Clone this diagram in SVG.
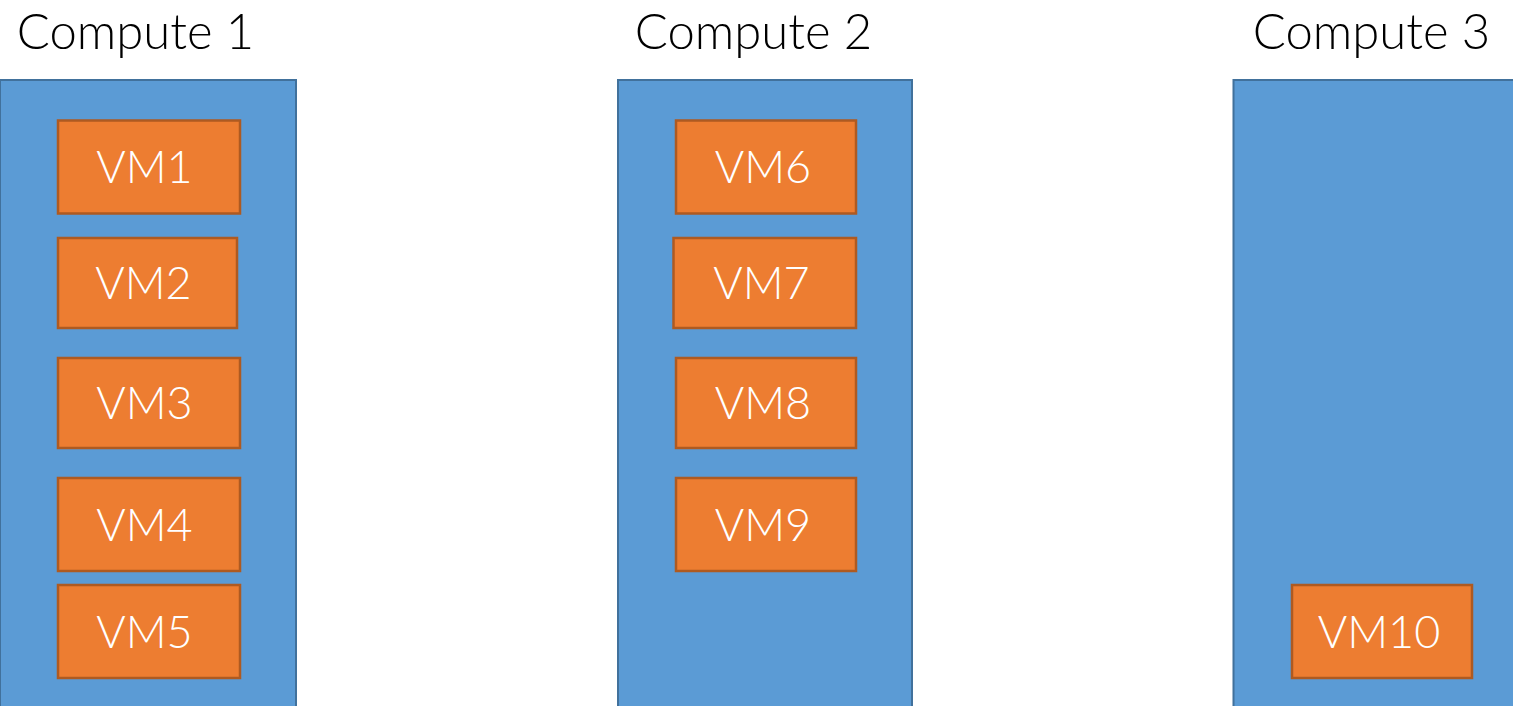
<svg xmlns="http://www.w3.org/2000/svg" width="1513" height="706" viewBox="0 0 1513 706">
  <style>
    .host { fill: #5B9BD5; stroke: #41719C; stroke-width: 2; }
    .vm { fill: #ED7D31; stroke: #AE5A21; stroke-width: 2.5; }
    .title { font-family: Lato, "Liberation Sans", Arial, sans-serif; font-weight: 300; font-size: 49px; fill: #000; text-anchor: middle; }
    .vmlabel { font-family: Lato, "Liberation Sans", Arial, sans-serif; font-weight: 300; font-size: 45px; fill: #fff; text-anchor: middle; }
  </style>
  <rect width="1513" height="706" fill="#fff"/>

  <!-- Compute host 1 -->
  <g id="compute1">
    <text class="title" x="135.5" y="49">Compute 1</text>
    <rect class="host" x="0" y="80" width="296" height="640"/>
  </g>
  <g id="vm1"><rect class="vm" x="58" y="120.5" width="182" height="93"/><text class="vmlabel" x="144.5" y="183">VM1</text></g>
  <g id="vm2"><rect class="vm" x="58" y="238" width="179" height="90"/><text class="vmlabel" x="143.5" y="299">VM2</text></g>
  <g id="vm3"><rect class="vm" x="58" y="358" width="182" height="90"/><text class="vmlabel" x="144.5" y="419">VM3</text></g>
  <g id="vm4"><rect class="vm" x="58" y="478" width="182" height="93"/><text class="vmlabel" x="144.5" y="541">VM4</text></g>
  <g id="vm5"><rect class="vm" x="58" y="585" width="182" height="93"/><text class="vmlabel" x="144.5" y="648">VM5</text></g>

  <!-- Compute host 2 -->
  <g id="compute2">
    <text class="title" x="753.5" y="49">Compute 2</text>
    <rect class="host" x="618" y="80" width="294" height="640"/>
  </g>
  <g id="vm6"><rect class="vm" x="676" y="120.5" width="180" height="93"/><text class="vmlabel" x="763" y="183">VM6</text></g>
  <g id="vm7"><rect class="vm" x="673.5" y="238" width="182.5" height="90"/><text class="vmlabel" x="761.5" y="299">VM7</text></g>
  <g id="vm8"><rect class="vm" x="676" y="358" width="180" height="90"/><text class="vmlabel" x="763" y="419">VM8</text></g>
  <g id="vm9"><rect class="vm" x="676" y="478" width="180" height="93"/><text class="vmlabel" x="763" y="541">VM9</text></g>

  <!-- Compute host 3 -->
  <g id="compute3">
    <text class="title" x="1371.5" y="49">Compute 3</text>
    <rect class="host" x="1233.5" y="80" width="300" height="640"/>
  </g>
  <g id="vm10"><rect class="vm" x="1292" y="585" width="180" height="93"/><text class="vmlabel" x="1379" y="648">VM10</text></g>
</svg>
